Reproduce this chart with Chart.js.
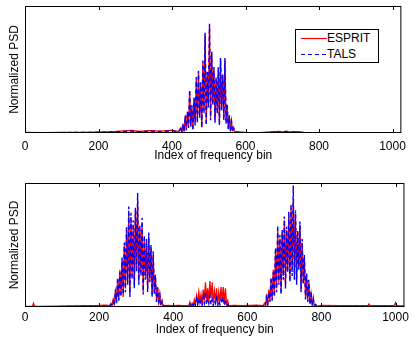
<!DOCTYPE html>
<html>
<head>
<meta charset="utf-8">
<script src="https://cdn.jsdelivr.net/npm/chart.js@4.4.1/dist/chart.umd.min.js"></script>
<style>
  html, body { margin: 0; padding: 0; background: #fff; }
  #wrap { position: relative; width: 412px; height: 337px; overflow: hidden; }
  .panel { position: absolute; left: 0; width: 412px; }
  #upper { top: 0; height: 170px; }
  #lower { top: 170px; height: 167px; }
  #legend {
    position: absolute; left: 295px; top: 29px; width: 82px; height: 32px;
    border: 1px solid #000; background: #fff;
    font: 12px "Liberation Sans", Arial, sans-serif; color: #000;
  }
  #legend .row { position: absolute; left: 0; height: 14px; line-height: 14px; }
  #legend svg { position: absolute; left: 5px; top: 0; }
  #legend span { position: absolute; left: 31px; top: 0; white-space: nowrap; }
</style>
</head>
<body>
<div id="wrap">
  <div class="panel" id="upper"><canvas id="upperChart"></canvas></div>
  <div class="panel" id="lower"><canvas id="lowerChart"></canvas></div>
  <div id="legend">
    <div class="row" style="top:1px">
      <svg width="26" height="14"><line x1="0" y1="7.5" x2="26" y2="7.5" stroke="#ff0000" stroke-width="1.2"/></svg>
      <span>ESPRIT</span>
    </div>
    <div class="row" style="top:17px">
      <svg width="26" height="14"><line x1="0" y1="7.5" x2="26" y2="7.5" stroke="#0000ff" stroke-width="1.2" stroke-dasharray="4,3"/></svg>
      <span>TALS</span>
    </div>
  </div>
</div>
<script>
// x tick labels (bin index)
const binTicks = [0, 200, 400, 600, 800, 1000]

// upper panel: one occupied band around bin 500
const upperBaseBins = [0, 50, 100, 150, 200, 240, 270, 290, 310, 340, 370, 400, 415]
const upperBaseEsprit = [0.004, 0.003, 0.004, 0.005, 0.007, 0.01, 0.016, 0.02, 0.012, 0.018, 0.015, 0.02, 0.012]
const upperBaseTals = [0.003, 0.003, 0.003, 0.004, 0.006, 0.008, 0.012, 0.016, 0.01, 0.015, 0.012, 0.018, 0.01]

const upperPeakBins = [
  421, 424, 427, 430, 433, 436, 439, 442, 445, 448,
  451, 454, 457, 460, 463, 466, 469, 472, 475, 478,
  481, 484, 487, 490, 493, 496, 499, 502, 505, 508,
  511, 514, 517, 520, 523, 526, 529, 532, 535, 538,
  541, 544, 547, 550, 553, 556, 559, 562, 565, 568,
  571,
]
const upperPeakEsprit = [
  0.02, 0.04, 0.01, 0.06, 0.02, 0.13, 0.03, 0.16, 0.05, 0.33,
  0.06, 0.2, 0.03, 0.27, 0.08, 0.42, 0.1, 0.48, 0.14, 0.38,
  0.05, 0.56, 0.18, 0.77, 0.08, 0.47, 0.22, 0.84, 0.12, 0.62,
  0.24, 0.5, 0.1, 0.42, 0.18, 0.5, 0.08, 0.58, 0.2, 0.44,
  0.12, 0.57, 0.09, 0.22, 0.04, 0.13, 0.02, 0.08, 0.02, 0.03,
  0.01,
]
const upperPeakTals = [
  0.02, 0.05, 0.01, 0.07, 0.01, 0.14, 0.02, 0.17, 0.04, 0.34,
  0.05, 0.22, 0.02, 0.28, 0.06, 0.44, 0.08, 0.49, 0.12, 0.4,
  0.04, 0.57, 0.15, 0.79, 0.06, 0.48, 0.2, 0.86, 0.1, 0.64,
  0.22, 0.52, 0.08, 0.44, 0.15, 0.52, 0.06, 0.59, 0.18, 0.46,
  0.1, 0.59, 0.07, 0.23, 0.03, 0.14, 0.01, 0.09, 0.01, 0.04,
  0.01,
]

const upperTailBins = [580, 600, 640, 670, 690, 700, 710, 720, 740, 760, 800, 850, 900, 960, 1024]
const upperTailEsprit = [0.008, 0.004, 0.003, 0.008, 0.012, 0.006, 0.014, 0.008, 0.01, 0.004, 0.003, 0.002, 0.003, 0.002, 0.002]
const upperTailTals = [0.006, 0.003, 0.002, 0.006, 0.01, 0.004, 0.012, 0.006, 0.008, 0.003, 0.002, 0.002, 0.002, 0.002, 0.002]

// lower panel: three occupied bands
const lowerBaseBins = [0, 20, 23, 26, 40, 80, 120, 160, 200, 220]
const lowerBaseEsprit = [0.005, 0.005, 0.03, 0.005, 0.005, 0.006, 0.008, 0.01, 0.012, 0.015]
const lowerBaseTals = [0.002, 0.002, 0.004, 0.002, 0.002, 0.003, 0.004, 0.005, 0.006, 0.008]

const lowerLeftBins = [
  229, 232, 235, 238, 241, 244, 247, 250, 253, 256,
  259, 262, 265, 268, 271, 274, 277, 280, 283, 286,
  289, 292, 295, 298, 301, 304, 307, 310, 313, 316,
  319, 322, 325, 328, 331, 334, 337, 340, 343, 346,
  349, 352, 355, 358, 361, 364, 367, 370, 373,
]
const lowerLeftEsprit = [
  0.01, 0.03, 0.01, 0.06, 0.02, 0.12, 0.04, 0.22, 0.06, 0.3,
  0.1, 0.38, 0.08, 0.5, 0.15, 0.62, 0.2, 0.75, 0.1, 0.7,
  0.25, 0.66, 0.18, 0.78, 0.3, 0.85, 0.2, 0.62, 0.28, 0.68,
  0.12, 0.55, 0.25, 0.52, 0.15, 0.56, 0.22, 0.48, 0.1, 0.42,
  0.12, 0.24, 0.05, 0.16, 0.03, 0.09, 0.02, 0.04, 0.01,
]
const lowerLeftTals = [
  0.01, 0.02, 0.02, 0.05, 0.01, 0.14, 0.03, 0.24, 0.05, 0.28,
  0.08, 0.4, 0.1, 0.52, 0.12, 0.65, 0.18, 0.81, 0.08, 0.76,
  0.22, 0.7, 0.15, 0.8, 0.28, 0.92, 0.18, 0.66, 0.25, 0.72,
  0.1, 0.58, 0.22, 0.55, 0.12, 0.6, 0.2, 0.5, 0.08, 0.45,
  0.1, 0.26, 0.04, 0.15, 0.02, 0.1, 0.01, 0.05, 0.01,
]

const lowerGapBins = [385, 400, 415, 430]
const lowerGapEsprit = [0.012, 0.01, 0.012, 0.01]
const lowerGapTals = [0.006, 0.005, 0.006, 0.005]

const lowerMidBins = [
  442, 445, 448, 451, 454, 457, 460, 463, 466, 469,
  472, 475, 478, 481, 484, 487, 490, 493, 496, 499,
  502, 505, 508, 511, 514, 517, 520, 523, 526, 529,
  532, 535, 538, 541, 544, 547, 550,
]
const lowerMidEsprit = [
  0.01, 0.04, 0.01, 0.03, 0.005, 0.06, 0.02, 0.09, 0.03, 0.12,
  0.04, 0.1, 0.02, 0.14, 0.05, 0.2, 0.06, 0.15, 0.04, 0.21,
  0.07, 0.2, 0.03, 0.13, 0.05, 0.15, 0.02, 0.12, 0.04, 0.16,
  0.05, 0.16, 0.03, 0.15, 0.02, 0.05, 0.01,
]
const lowerMidTals = [
  0.005, 0.02, 0.005, 0.03, 0.01, 0.04, 0.01, 0.06, 0.02, 0.07,
  0.02, 0.05, 0.01, 0.08, 0.03, 0.12, 0.02, 0.07, 0.03, 0.09,
  0.02, 0.06, 0.01, 0.05, 0.03, 0.07, 0.01, 0.05, 0.02, 0.06,
  0.03, 0.08, 0.01, 0.04, 0.01, 0.02, 0.005,
]

const lowerGap2Bins = [565, 585, 605, 625]
const lowerGap2Esprit = [0.012, 0.01, 0.012, 0.014]
const lowerGap2Tals = [0.006, 0.005, 0.006, 0.007]

const lowerRightBins = [
  643, 646, 649, 652, 655, 658, 661, 664, 667, 670,
  673, 676, 679, 682, 685, 688, 691, 694, 697, 700,
  703, 706, 709, 712, 715, 718, 721, 724, 727, 730,
  733, 736, 739, 742, 745, 748, 751, 754, 757, 760,
  763, 766, 769, 772, 775, 778, 781, 784, 787,
]
const lowerRightEsprit = [
  0.01, 0.03, 0.01, 0.08, 0.02, 0.14, 0.05, 0.22, 0.06, 0.3,
  0.1, 0.45, 0.15, 0.62, 0.2, 0.55, 0.12, 0.6, 0.25, 0.7,
  0.18, 0.62, 0.3, 0.73, 0.22, 0.8, 0.3, 0.86, 0.28, 0.75,
  0.2, 0.6, 0.32, 0.66, 0.15, 0.52, 0.2, 0.4, 0.08, 0.26,
  0.05, 0.2, 0.03, 0.12, 0.02, 0.06, 0.01, 0.02, 0.005,
]
const lowerRightTals = [
  0.005, 0.02, 0.01, 0.1, 0.02, 0.12, 0.04, 0.24, 0.05, 0.28,
  0.08, 0.48, 0.12, 0.66, 0.18, 0.58, 0.1, 0.62, 0.22, 0.73,
  0.15, 0.65, 0.28, 0.77, 0.2, 0.83, 0.25, 0.98, 0.22, 0.78,
  0.18, 0.62, 0.3, 0.69, 0.12, 0.55, 0.18, 0.42, 0.06, 0.27,
  0.04, 0.22, 0.02, 0.1, 0.01, 0.07, 0.01, 0.02, 0.005,
]

const lowerTailBins = [800, 850, 900, 925, 928, 931, 960, 997, 1000, 1003, 1024]
const lowerTailEsprit = [0.012, 0.01, 0.01, 0.01, 0.025, 0.01, 0.01, 0.01, 0.035, 0.01, 0.008]
const lowerTailTals = [0.005, 0.004, 0.004, 0.004, 0.006, 0.004, 0.004, 0.004, 0.008, 0.004, 0.003]

const FONT = "'Liberation Sans', Arial, Helvetica, sans-serif"

function points(binLists, valueLists) {
  const out = []
  binLists.forEach((bins, i) => {
    bins.forEach((bin, j) => out.push({ x: bin, y: valueLists[i][j] }))
  })
  return out
}

// MATLAB-like axes box with inward x ticks
const axesBox = {
  id: "axesBox",
  afterDraw(chart) {
    const { ctx, chartArea: a } = chart
    const x = chart.scales.x
    ctx.save()
    ctx.strokeStyle = "#000"
    ctx.lineWidth = 1
    ctx.strokeRect(a.left + 0.5, a.top + 0.5, a.width - 1, a.height - 1)
    ctx.beginPath()
    binTicks.forEach((bin) => {
      const px = Math.round(x.getPixelForValue(bin)) + 0.5
      ctx.moveTo(px, a.bottom)
      ctx.lineTo(px, a.bottom - 4)
      ctx.moveTo(px, a.top)
      ctx.lineTo(px, a.top + 4)
    })
    ctx.stroke()
    ctx.restore()
  },
}

function drawPanel(canvasId, esprit, tals, opts) {
  return new Chart(document.getElementById(canvasId), {
    type: "line",
    data: {
      datasets: [
        {
          label: "ESPRIT",
          data: esprit,
          borderColor: "#ff0000",
          borderWidth: 1.3,
          pointRadius: 0,
          tension: 0,
          order: 2,
        },
        {
          label: "TALS",
          data: tals,
          borderColor: "#0000ff",
          borderWidth: 1.4,
          borderDash: [4, 3],
          pointRadius: 0,
          tension: 0,
          order: 1,
        },
      ],
    },
    options: {
      responsive: true,
      maintainAspectRatio: false,
      animation: false,
      events: [],
      layout: { padding: { top: opts.top, right: 5, bottom: 0, left: 0 } },
      plugins: { legend: { display: false }, tooltip: { enabled: false } },
      scales: {
        x: {
          type: "linear",
          min: 0,
          max: 1024,
          grid: { display: false, drawTicks: false },
          border: { display: false },
          afterBuildTicks: (scale) => {
            scale.ticks = binTicks.map((value) => ({ value }))
          },
          afterFit: (scale) => {
            scale.height = opts.xHeight
          },
          ticks: {
            color: "#000",
            padding: opts.tickPad,
            maxRotation: 0,
            autoSkip: false,
            callback: (value) => String(value),
            font: { family: FONT, size: 12 },
          },
          title: {
            display: true,
            text: "Index of frequency bin",
            color: "#000",
            padding: { top: 0, bottom: opts.titlePad },
            font: { family: FONT, size: 12 },
          },
        },
        y: {
          min: 0,
          max: 1,
          grid: { display: false },
          border: { display: false },
          ticks: { display: false },
          afterFit: (scale) => {
            scale.width = 25
          },
          title: {
            display: true,
            text: "Normalized PSD",
            color: "#000",
            padding: { top: 7, bottom: 0 },
            font: { family: FONT, size: 12 },
          },
        },
      },
    },
    plugins: [axesBox],
  })
}

drawPanel(
  "upperChart",
  points([upperBaseBins, upperPeakBins, upperTailBins], [upperBaseEsprit, upperPeakEsprit, upperTailEsprit]),
  points([upperBaseBins, upperPeakBins, upperTailBins], [upperBaseTals, upperPeakTals, upperTailTals]),
  { top: 6, xHeight: 37, tickPad: 6, titlePad: 7 }
)

drawPanel(
  "lowerChart",
  points(
    [lowerBaseBins, lowerLeftBins, lowerGapBins, lowerMidBins, lowerGap2Bins, lowerRightBins, lowerTailBins],
    [lowerBaseEsprit, lowerLeftEsprit, lowerGapEsprit, lowerMidEsprit, lowerGap2Esprit, lowerRightEsprit, lowerTailEsprit]
  ),
  points(
    [lowerBaseBins, lowerLeftBins, lowerGapBins, lowerMidBins, lowerGap2Bins, lowerRightBins, lowerTailBins],
    [lowerBaseTals, lowerLeftTals, lowerGapTals, lowerMidTals, lowerGap2Tals, lowerRightTals, lowerTailTals]
  ),
  { top: 13, xHeight: 30, tickPad: 3, titlePad: 0 }
)
</script>
</body>
</html>
